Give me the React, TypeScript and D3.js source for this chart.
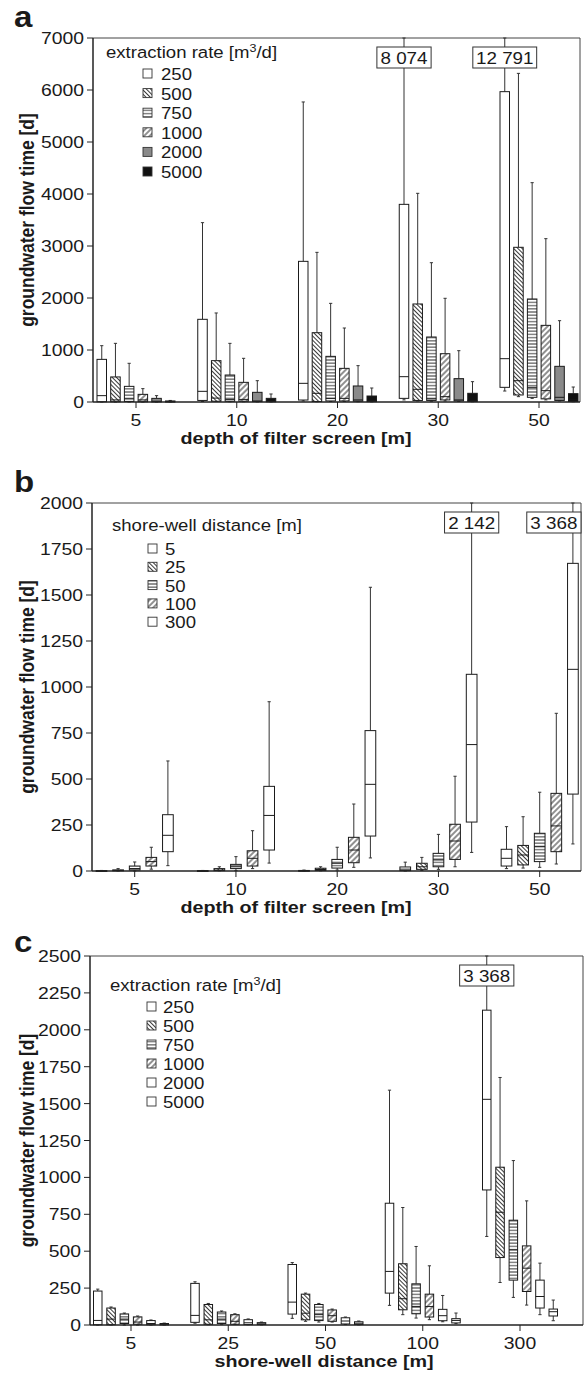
import * as d3 from "d3";

// categories and series
const depthCats = ["5", "10", "20", "30", "50"];
const wellCats = ["5", "25", "50", "100", "300"];
const rateSeries = ["250", "500", "750", "1000", "2000", "5000"];
const distSeries = ["5", "25", "50", "100", "300"];

// each row: [low whisker, q1, median, q3, high whisker] per category
const a250 = [[0, 5, 122, 820, 1083], [10, 30, 205, 1590, 3449], [20, 38, 359, 2705, 5770], [40, 70, 487, 3801, 8074], [211, 282, 833, 5968, 12791]];
const a500 = [[0, 5, 40, 482, 1128], [10, 15, 75, 795, 1712], [5, 10, 167, 1333, 2878], [20, 30, 244, 1885, 4013], [103, 135, 410, 2975, 6320]];
const a750 = [[0, 10, 60, 301, 744], [5, 15, 50, 519, 1128], [10, 20, 70, 878, 1897], [15, 30, 60, 1250, 2679], [70, 90, 282, 1981, 4218]];
const a1000 = [[0, 5, 40, 147, 257], [5, 15, 50, 378, 840], [10, 20, 70, 647, 1423], [20, 40, 103, 929, 1994], [40, 60, 218, 1474, 3141]];
const a2000 = [[0, 2, 15, 70, 122], [2, 8, 20, 186, 410], [5, 15, 40, 308, 699], [10, 20, 40, 449, 987], [20, 30, 90, 686, 1564]];
const a5000 = [[0, 1, 5, 20, 30], [2, 5, 15, 70, 154], [3, 8, 30, 115, 269], [5, 10, 30, 167, 391], [5, 10, 40, 160, 288]];

const b5 = [[0, 1, 1, 2, 3], [0, 1, 1, 2, 3], [0, 1, 2, 3, 5], [0, 2, 10, 22, 48], [13, 27, 69, 118, 241]];
const b25 = [[0, 1, 3, 6, 13], [1, 2, 5, 13, 23], [1, 3, 8, 15, 23], [3, 9, 23, 42, 74], [16, 33, 87, 139, 295]];
const b50 = [[0, 5, 13, 27, 49], [2, 13, 23, 36, 78], [5, 16, 42, 63, 129], [9, 23, 60, 96, 199], [20, 51, 132, 205, 428]];
const b100 = [[10, 27, 51, 74, 129], [13, 27, 69, 110, 219], [20, 45, 114, 183, 364], [23, 63, 163, 254, 515], [38, 105, 245, 422, 857]];
const b300 = [[29, 105, 194, 306, 598], [43, 114, 302, 460, 920], [71, 190, 471, 763, 1542], [101, 266, 687, 1069, 2142], [147, 418, 1096, 1672, 3368]];

const c250 = [[0, 2, 31, 230, 243], [12, 18, 65, 282, 293], [45, 74, 155, 410, 423], [133, 216, 363, 825, 1591], [600, 915, 1529, 2133, 3368]];
const c500 = [[0, 2, 40, 115, 122], [2, 5, 35, 139, 146], [25, 35, 80, 209, 216], [70, 103, 178, 415, 796], [288, 457, 764, 1069, 1677]];
const c750 = [[0, 10, 40, 75, 81], [5, 10, 40, 88, 95], [20, 30, 70, 139, 146], [47, 76, 126, 279, 532], [187, 304, 509, 710, 1114]];
const c1000 = [[0, 5, 20, 55, 61], [3, 5, 25, 70, 76], [20, 25, 63, 102, 108], [36, 54, 125, 209, 401], [135, 227, 385, 536, 841]];
const c2000 = [[0, 2, 10, 30, 34], [2, 3, 15, 36, 41], [3, 7, 27, 49, 54], [22, 29, 63, 106, 200], [70, 115, 193, 304, 419]];
const c5000 = [[0, 1, 5, 10, 13], [1, 3, 8, 16, 20], [1, 3, 12, 22, 27], [9, 14, 31, 43, 81], [29, 61, 90, 108, 169]];

const FONT = "'Liberation Sans', Arial, Helvetica, sans-serif";
const SX = 1.14; // the original lettering is slightly wide

const panels = [
  {
    id: "a", letter: "a", cats: depthCats, series: rateSeries,
    stats: [a250, a500, a750, a1000, a2000, a5000],
    fills: ["white", "back", "horiz", "fwd", "#8a8a8a", "#111"],
    yMax: 7000, yStep: 1000,
    left: 93, right: 580, top: 38, bottom: 402,
    c0: 136, c1: 539, sp: 13.7, bw: 9.5,
    legendTitle: "extraction rate [m", sup: true,
    lgX: 106, lgY: 58, swX: 143, txX: 161, rowY: 80, rowStep: 19.6,
    xTitle: "depth of filter screen [m]", xTitleX: 296, letterY: 27,
  },
  {
    id: "b", letter: "b", cats: depthCats, series: distSeries,
    stats: [b5, b25, b50, b100, b300],
    fills: ["white", "back", "horiz", "fwd", "white"],
    yMax: 2000, yStep: 250,
    left: 92, right: 581, top: 503, bottom: 871,
    c0: 134.7, c1: 539.7, sp: 16.6, bw: 10.7,
    legendTitle: "shore-well distance [m]", sup: false,
    lgX: 112, lgY: 531, swX: 148, txX: 165, rowY: 555, rowStep: 18.3,
    xTitle: "depth of filter screen [m]", xTitleX: 296, letterY: 492,
  },
  {
    id: "c", letter: "c", cats: wellCats, series: rateSeries,
    stats: [c250, c500, c750, c1000, c2000, c5000],
    fills: ["white", "back", "horiz", "fwd", "white", "white"],
    yMax: 2500, yStep: 250,
    left: 90, right: 583, top: 956, bottom: 1325,
    c0: 131, c1: 520, sp: 13.3, bw: 8.5,
    legendTitle: "extraction rate [m", sup: true,
    lgX: 110, lgY: 991, swX: 147, txX: 163, rowY: 1013, rowStep: 19,
    xTitle: "shore-well distance [m]", xTitleX: 324, letterY: 952,
  },
];

const fmt = (v: number) => d3.format(",")(v).replace(/,/g, " ");

function T(props: any) {
  const { x, y, size = 16, anchor = "start", bold = false, children } = props;
  return (
    <text
      transform={`translate(${x},${y}) scale(${SX},1)`}
      fontFamily={FONT}
      fontSize={size}
      fontWeight={bold ? "bold" : "normal"}
      textAnchor={anchor}
      fill="#1a1a1a"
    >
      {children}
    </text>
  );
}

function Patterns({ id }: { id: string }) {
  return (
    <defs>
      <pattern id={`${id}-back`} width={3} height={3} patternUnits="userSpaceOnUse" patternTransform="rotate(45)">
        <rect width={3} height={3} fill="white" />
        <line x1={0} y1={1.5} x2={3} y2={1.5} stroke="#222" strokeWidth={0.9} />
      </pattern>
      <pattern id={`${id}-fwd`} width={4} height={4} patternUnits="userSpaceOnUse" patternTransform="rotate(-45)">
        <rect width={4} height={4} fill="white" />
        <line x1={0} y1={2} x2={4} y2={2} stroke="#222" strokeWidth={1} />
      </pattern>
      <pattern id={`${id}-horiz`} width={4} height={3.2} patternUnits="userSpaceOnUse">
        <rect width={4} height={3.2} fill="white" />
        <line x1={0} y1={1.6} x2={4} y2={1.6} stroke="#222" strokeWidth={0.9} />
      </pattern>
    </defs>
  );
}

function fillOf(id: string, f: string) {
  return f === "back" || f === "fwd" || f === "horiz" ? `url(#${id}-${f})` : f;
}

function Panel({ p }: { p: any }) {
  const y = d3.scaleLinear().domain([0, p.yMax]).range([p.bottom, p.top]);
  const x = d3.scalePoint<string>().domain(p.cats).range([p.c0, p.c1]);
  const n = p.series.length;
  const inner = d3
    .scalePoint<string>()
    .domain(p.series)
    .range([(-(n - 1) / 2) * p.sp, ((n - 1) / 2) * p.sp]);
  const yTicks = d3.range(0, p.yMax + 1, p.yStep);
  const cap = 1.6;
  const yv = (v: number) => y(Math.min(v, p.yMax));

  return (
    <g>
      <Patterns id={p.id} />
      <T x={14} y={p.letterY} size={29} bold>{p.letter}</T>

      {/* frame */}
      <line x1={p.left} x2={p.right} y1={p.top} y2={p.top} stroke="#444" strokeWidth={1} />
      <line x1={p.right} x2={p.right} y1={p.top} y2={p.bottom} stroke="#444" strokeWidth={1} />

      {/* boxes */}
      {p.series.map((s: string, si: number) =>
        p.cats.map((c: string, ci: number) => {
          const [lo, q1, md, q3, hi] = p.stats[si][ci];
          const cx = (x(c) as number) + (inner(s) as number);
          const over = hi > p.yMax;
          const lw = fmt(hi).length * 9.4 * SX * 0.9 + 6;
          const lx = Math.min(cx - lw / 2, p.right - lw);
          return (
            <g key={`${s}-${c}`}>
              <line x1={cx} x2={cx} y1={yv(hi)} y2={y(q3)} stroke="#333" strokeWidth={1} />
              <line x1={cx} x2={cx} y1={y(q1)} y2={y(lo)} stroke="#333" strokeWidth={1} />
              <line x1={cx - cap} x2={cx + cap} y1={yv(hi)} y2={yv(hi)} stroke="#333" strokeWidth={1} />
              <line x1={cx - cap} x2={cx + cap} y1={y(lo)} y2={y(lo)} stroke="#333" strokeWidth={1} />
              <rect
                x={cx - p.bw / 2}
                y={y(q3)}
                width={p.bw}
                height={Math.max(y(q1) - y(q3), 0.8)}
                fill={fillOf(p.id, p.fills[si])}
                stroke="#1a1a1a"
                strokeWidth={1}
              />
              <line x1={cx - p.bw / 2} x2={cx + p.bw / 2} y1={y(md)} y2={y(md)} stroke="#1a1a1a" strokeWidth={1} />
              {over && (
                <g>
                  <rect x={lx} y={p.top + 9} width={lw} height={21} fill="white" stroke="#333" strokeWidth={1} />
                  <T x={lx + lw / 2} y={p.top + 26} size={16.5} anchor="middle">{fmt(hi)}</T>
                </g>
              )}
            </g>
          );
        })
      )}

      {/* y axis */}
      <line x1={p.left} x2={p.left} y1={p.top} y2={p.bottom} stroke="#222" strokeWidth={1.5} />
      {yTicks.map((t: number) => (
        <g key={t}>
          <line x1={p.left - 6} x2={p.left} y1={y(t)} y2={y(t)} stroke="#222" strokeWidth={1} />
          <T x={p.left - 9} y={y(t) + 6} size={17} anchor="end">{t}</T>
        </g>
      ))}
      <text
        transform={`translate(${34},${(p.top + p.bottom) / 2}) rotate(-90) scale(1,${SX})`}
        fontFamily={FONT}
        fontSize={17.5}
        fontWeight="bold"
        textAnchor="middle"
        fill="#1a1a1a"
      >
        groundwater flow time [d]
      </text>

      {/* x axis */}
      <line x1={p.left} x2={p.right} y1={p.bottom} y2={p.bottom} stroke="#222" strokeWidth={1.5} />
      {p.cats.map((c: string) => (
        <g key={c}>
          <line x1={x(c)} x2={x(c)} y1={p.bottom} y2={p.bottom + 6} stroke="#222" strokeWidth={1} />
          <T x={x(c)} y={p.bottom + 24} size={17} anchor="middle">{c}</T>
        </g>
      ))}
      <T x={p.xTitleX} y={p.bottom + 42} size={17.3} bold anchor="middle">{p.xTitle}</T>

      {/* legend */}
      <text
        transform={`translate(${p.lgX},${p.lgY}) scale(${SX},1)`}
        fontFamily={FONT}
        fontSize={16.3}
        fill="#1a1a1a"
      >
        {p.legendTitle}
        {p.sup && (
          <>
            <tspan fontSize={11} dy={-6}>3</tspan>
            <tspan dy={6}>/d]</tspan>
          </>
        )}
      </text>
      {p.series.map((s: string, si: number) => {
        const ry = p.rowY + si * p.rowStep;
        return (
          <g key={s}>
            <rect x={p.swX} y={ry - 11} width={9} height={9} fill={fillOf(p.id, p.fills[si])} stroke="#333" strokeWidth={0.9} />
            <T x={p.txX} y={ry} size={16.3}>{s}</T>
          </g>
        );
      })}
    </g>
  );
}

export default function App() {
  return (
    <svg width={585} height={1375} style={{ position: "absolute", left: 0, top: 0, background: "white" }}>
      <rect width={585} height={1375} fill="white" />
      {panels.map((p) => (
        <Panel key={p.id} p={p} />
      ))}
    </svg>
  );
}
